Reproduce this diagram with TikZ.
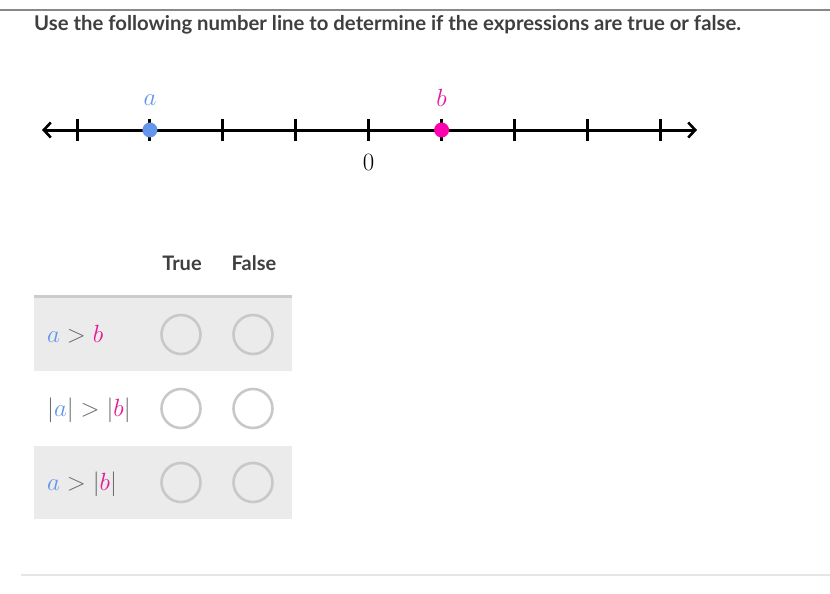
\documentclass[tikz,border=0pt]{standalone}
\usepackage[no-math]{fontspec}
\newfontfamily\lato{Lato}
\usetikzlibrary{arrows.meta}
\definecolor{txt}{HTML}{3F3F3F}
\definecolor{ablue}{HTML}{6495ED}
\definecolor{bmag}{HTML}{FF00AF}
\definecolor{bmagt}{HTML}{E8179A}
\definecolor{opgray}{HTML}{666666}
\definecolor{rowgray}{HTML}{EBEBEB}
\definecolor{bargray}{HTML}{CCCCCC}
\definecolor{radiogray}{HTML}{C8C8C8}
\definecolor{topgray}{HTML}{888888}
\definecolor{botgray}{HTML}{E6E6E6}
\newcommand{\va}{{\color{ablue}a}}
\newcommand{\vb}{{\color{bmagt}b}}
\newcommand{\grt}{\mathrel{\color{opgray}>}}
\newcommand{\vbr}{{\color{opgray}|}}
\begin{document}
\begin{tikzpicture}[x=1pt,y=-1pt,
  hdr/.style={font=\lato\bfseries\fontsize{20}{24}\selectfont, text=txt, inner sep=0pt},
  titlef/.style={font=\lato\bfseries\fontsize{20.3}{24}\selectfont, text=txt, inner sep=0pt},
  mathlbl/.style={font=\fontsize{24}{28}\selectfont, inner sep=0pt},
  nl/.style={line width=3pt, black},
  dotnode/.style={circle, minimum size=15pt, inner sep=0pt, outer sep=0pt},
  radio/.style={circle, draw=radiogray, line width=2.6pt, minimum size=39pt, inner sep=0pt}
]
\useasboundingbox (0,0) rectangle (830,594);
% frame lines
\coordinate (tl) at (0,10);
\coordinate (tr) at (830,10);
\draw[topgray, line width=1.6pt] (tl) -- (tr);
\coordinate (bl) at (21,575);
\coordinate (br) at (830,575);
\draw[botgray, line width=1.4pt] (bl) -- (br);
% title
\node[titlef, anchor=base west] (title) at (34,30.5) {Use the following number line to determine if the expressions are true or false.};
% number line
\coordinate (L) at (42,130);
\coordinate (R) at (697,130);
\draw[nl, {Straight Barb[length=7pt, width=15pt, line width=2.6pt]}-{Straight Barb[length=7pt, width=15pt, line width=2.6pt]}] (L) -- (R);
\foreach \k in {0,...,8} {
  \coordinate (t\k a) at (77+72.9*\k,119);
  \coordinate (t\k b) at (77+72.9*\k,141);
  \draw[nl] (t\k a) -- (t\k b);
}
\node[dotnode, fill=ablue] (adot) at (149.9,130) {};
\node[dotnode, fill=bmag] (bdot) at (441.6,130) {};
\node[mathlbl] (alab) at (149.9,100) {$\va$};
\node[mathlbl] (blab) at (441.6,98) {$\vb$};
\node[mathlbl] (zero) at (368.6,162) {$0$};
% table
\node[hdr] (htrue) at (182,263) {True};
\node[hdr] (hfalse) at (254,263) {False};
\fill[rowgray] (34,298) rectangle (292,371);
\fill[rowgray] (34,446) rectangle (292,519);
\coordinate (barl) at (34,296.5);
\coordinate (barr) at (292,296.5);
\draw[bargray, line width=3pt] (barl) -- (barr);
\node[mathlbl, anchor=base west] (e1) at (47,342) {$\va \grt \vb$};
\node[mathlbl, anchor=base west] (e2) at (47,416) {$\vbr\va\vbr \grt \vbr\vb\vbr$};
\node[mathlbl, anchor=base west] (e3) at (47,490) {$\va \grt \vbr\vb\vbr$};
\foreach \r/\y in {1/334.5,2/408.5,3/482.5} {
  \node[radio] (t\r) at (181,\y) {};
  \node[radio] (f\r) at (253,\y) {};
}
\end{tikzpicture}
\end{document}
